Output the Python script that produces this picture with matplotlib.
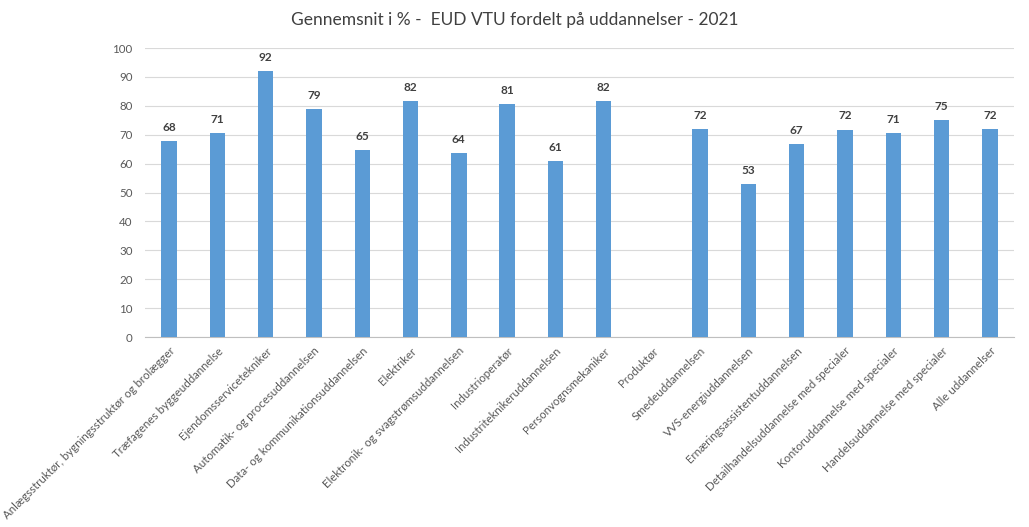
import numpy as np
import matplotlib.pyplot as plt

plt.rcParams['font.family'] = ['Lato', 'DejaVu Sans']

uddannelser = [
    'Anlægsstruktør, bygningsstruktør og brolægger',
    'Træfagenes byggeuddannelse',
    'Ejendomsservicetekniker',
    'Automatik- og procesuddannelsen',
    'Data- og kommunikationsuddannelsen',
    'Elektriker',
    'Elektronik- og svagstrømsuddannelsen',
    'Industrioperatør',
    'Industriteknikeruddannelsen',
    'Personvognsmekaniker',
    'Produktør',
    'Smedeuddannelsen',
    'VVS-energiuddannelsen',
    'Ernæringsassistentuddannelsen',
    'Detailhandelsuddannelse med specialer',
    'Kontoruddannelse med specialer',
    'Handelsuddannelse med specialer',
    'Alle uddannelser',
]
gennemsnit = [67.8, 70.7, 92.1, 78.9, 64.6, 81.5, 63.5, 80.7, 61.0, 81.5,
              np.nan, 72.1, 52.8, 66.9, 71.8, 70.6, 75.2, 72.1]

fig = plt.figure(figsize=(10.29, 5.27), dpi=100)
ax = fig.add_axes([0.1409, 0.3605, 0.8445, 0.5484])

x = np.arange(len(uddannelser))
ax.bar(x, gennemsnit, width=0.32, color='#5B9BD5', zorder=3)

for xi, v in zip(x, gennemsnit):
    if not np.isnan(v):
        ax.text(xi, v + 2.8, f'{v:.0f}', ha='center', va='bottom',
                fontsize=8.5, fontweight='bold', color='#404040')

ax.set_ylim(0, 100)
ax.set_xlim(-0.5, len(uddannelser) - 0.5)
ax.set_yticks(range(0, 101, 10))
ax.yaxis.grid(True, color='#D9D9D9', linewidth=0.8, zorder=0)
for s in ['top', 'right', 'left']:
    ax.spines[s].set_visible(False)
ax.spines['bottom'].set_color('#BFBFBF')
ax.tick_params(axis='both', length=0, colors='#595959', labelsize=8.3)
ax.tick_params(axis='y', pad=9)
ax.tick_params(axis='x', pad=6)
ax.set_xticks(x)
ax.set_xticklabels(uddannelser, rotation=45, ha='right', rotation_mode='anchor')

fig.text(0.5, 0.962, 'Gennemsnit i % -  EUD VTU fordelt på uddannelser - 2021',
         ha='center', va='center', fontsize=12.5, color='#404040')

fig.savefig('out.png', dpi=100)
